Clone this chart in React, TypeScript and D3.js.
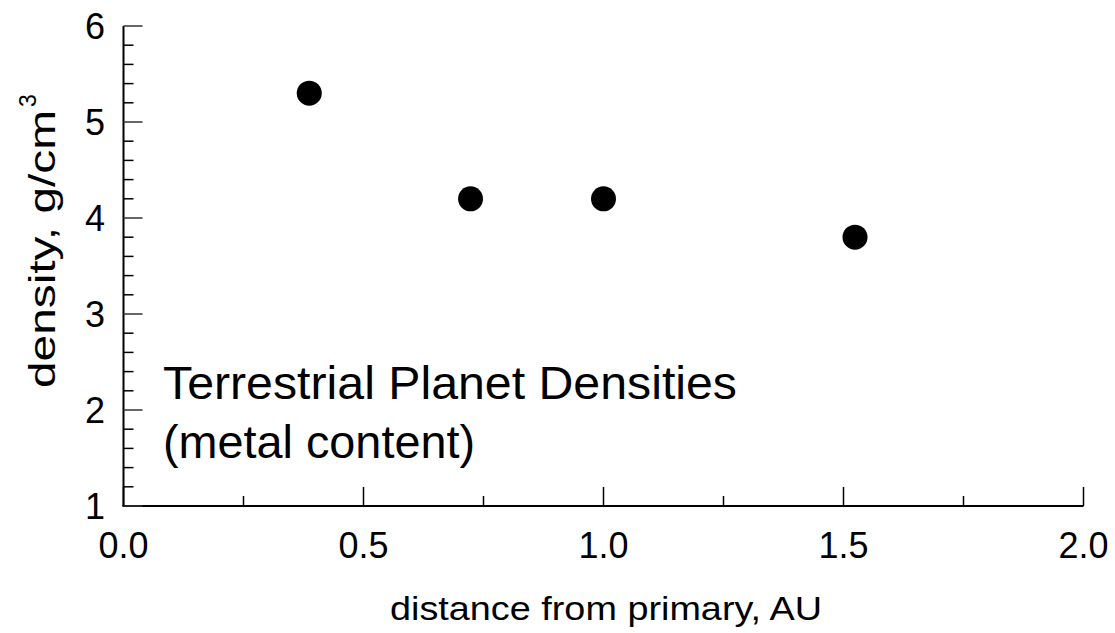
import React, { useEffect, useRef } from "react";
import * as d3 from "d3";

const planets = ["Mercury", "Venus", "Earth", "Mars"];
const distances = [0.387, 0.723, 1.0, 1.524];
const densities = [5.3, 4.2, 4.2, 3.8];
const xTicks = [0, 0.5, 1.0, 1.5, 2.0];
const xMinorTicks = [0.25, 0.75, 1.25, 1.75];
const yTicks = [1, 2, 3, 4, 5, 6];
const yMinorTicks = d3.range(1, 6.001, 0.2).filter(v => Math.abs(v - Math.round(v)) > 0.01);

const App = () => {
    const svgRef = useRef<SVGSVGElement>(null);

    useEffect(() => {
        const width = 1115;
        const height = 633;
        const font = "Liberation Sans, Arial, sans-serif";

        const svg = d3.select(svgRef.current)
            .attr("width", width)
            .attr("height", height)
            .style("position", "absolute")
            .style("left", "0px")
            .style("top", "0px")
            .style("background", "#fff");

        svg.selectAll("*").remove();

        const x = d3.scaleLinear().domain([0, 2]).range([123.5, 1083.5]);
        const y = d3.scaleLinear().domain([1, 6]).range([506, 26]);

        // axes lines
        svg.append("line")
            .attr("x1", x(0) - 1).attr("x2", x(2))
            .attr("y1", y(1)).attr("y2", y(1))
            .attr("stroke", "#000").attr("stroke-width", 2);
        svg.append("line")
            .attr("x1", x(0)).attr("x2", x(0))
            .attr("y1", y(1)).attr("y2", y(6))
            .attr("stroke", "#000").attr("stroke-width", 2);

        // x ticks point inward
        svg.selectAll(".xmaj")
            .data(xTicks)
            .enter()
            .append("line")
            .attr("x1", d => x(d)).attr("x2", d => x(d))
            .attr("y1", y(1)).attr("y2", y(1) - 19)
            .attr("stroke", "#000").attr("stroke-width", 1.5);
        svg.selectAll(".xmin")
            .data(xMinorTicks)
            .enter()
            .append("line")
            .attr("x1", d => x(d)).attr("x2", d => x(d))
            .attr("y1", y(1)).attr("y2", y(1) - 10)
            .attr("stroke", "#000").attr("stroke-width", 1.5);
        svg.selectAll(".xlab")
            .data(xTicks)
            .enter()
            .append("text")
            .attr("x", d => x(d))
            .attr("y", 558)
            .attr("text-anchor", "middle")
            .attr("font-family", font)
            .attr("font-size", 36)
            .text(d => d3.format(".1f")(d));

        // y ticks point inward
        svg.selectAll(".ymaj")
            .data(yTicks)
            .enter()
            .append("line")
            .attr("x1", x(0)).attr("x2", x(0) + 19)
            .attr("y1", d => y(d)).attr("y2", d => y(d))
            .attr("stroke", "#333").attr("stroke-width", 1.5);
        svg.selectAll(".ymin")
            .data(yMinorTicks)
            .enter()
            .append("line")
            .attr("x1", x(0)).attr("x2", x(0) + 10)
            .attr("y1", d => y(d)).attr("y2", d => y(d))
            .attr("stroke", "#000").attr("stroke-width", 1.5);
        svg.selectAll(".ylab")
            .data(yTicks)
            .enter()
            .append("text")
            .attr("x", 105)
            .attr("y", d => y(d) + 13)
            .attr("text-anchor", "end")
            .attr("font-family", font)
            .attr("font-size", 36)
            .text(d => d);

        // axis titles
        svg.append("text")
            .attr("x", 390)
            .attr("y", 620)
            .attr("font-family", font)
            .attr("font-size", 34)
            .attr("textLength", 432)
            .attr("lengthAdjust", "spacingAndGlyphs")
            .text("distance from primary, AU");

        const yt = svg.append("g")
            .attr("transform", "translate(55, 388) rotate(-90)");
        yt.append("text")
            .attr("x", 0)
            .attr("y", 0)
            .attr("font-family", font)
            .attr("font-size", 37)
            .attr("textLength", 278)
            .attr("lengthAdjust", "spacingAndGlyphs")
            .text("density, g/cm");
        yt.append("text")
            .attr("x", 281)
            .attr("y", -19)
            .attr("font-family", font)
            .attr("font-size", 23)
            .text("3");

        // annotation
        svg.append("text")
            .attr("x", 163)
            .attr("y", 399)
            .attr("font-family", font)
            .attr("font-size", 47)
            .attr("textLength", 574)
            .attr("lengthAdjust", "spacingAndGlyphs")
            .text("Terrestrial Planet Densities");
        svg.append("text")
            .attr("x", 163)
            .attr("y", 458)
            .attr("font-family", font)
            .attr("font-size", 47)
            .attr("textLength", 312)
            .attr("lengthAdjust", "spacingAndGlyphs")
            .text("(metal content)");

        // points
        svg.selectAll(".dot")
            .data(planets)
            .enter()
            .append("circle")
            .attr("cx", (_, i) => x(distances[i]))
            .attr("cy", (_, i) => y(densities[i]))
            .attr("r", 12.5)
            .attr("fill", "#000");
    }, []);

    return <svg ref={svgRef}></svg>;
};

export default App;
